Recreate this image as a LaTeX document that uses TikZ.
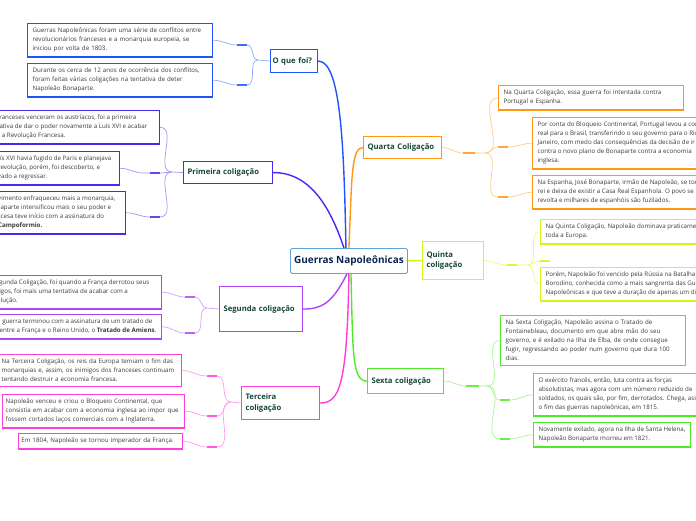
\documentclass[tikz,border=0pt]{standalone}
\usepackage{fontspec}
\setmainfont{Open Sans}
\usepackage{tikz}
\usetikzlibrary{positioning, calc}
\usepackage{xcolor}
\definecolor{oqblue}{RGB}{30, 85, 250}
\definecolor{firstviolet}{RGB}{75, 40, 240}
\definecolor{secondviolet}{RGB}{175, 70, 245}
\definecolor{thirdpink}{RGB}{255, 60, 220}
\definecolor{fourthorange}{RGB}{255, 150, 20}
\definecolor{fifthlime}{RGB}{205, 250, 20}
\definecolor{sixthgreen}{RGB}{80, 235, 40}
\definecolor{centreblue}{RGB}{95, 165, 215}
\definecolor{centretext}{RGB}{12, 38, 80}
\definecolor{topictext}{RGB}{22, 70, 58}
\definecolor{leaftext}{RGB}{60, 60, 60}

\newcommand{\leaffont}{\fontsize{6.2}{9}\selectfont}
\newcommand{\topicfont}{\fontsize{7.7}{10.5}\selectfont\bfseries}

\tikzset{
  leaf/.style={draw=#1, line width=1.3pt, fill=white, align=left, font=\leaffont,
               text=leaftext, inner xsep=5pt, inner ysep=4.5pt, anchor=north west},
  cutleaf/.style={leaf=#1, inner xsep=7pt, anchor=north east},
  topic/.style={draw=#1, line width=1.1pt, fill=white, align=left, font=\topicfont,
                text=topictext, inner xsep=4pt, inner ysep=2pt, anchor=north west},
  branch/.style={draw=#1, line width=1.4pt},
  link/.style={draw=#1!50, line width=0.7pt},
  stub/.style={draw=#1!85, line width=1.5pt}
}

\begin{document}
\begin{tikzpicture}[x=1pt, y=-1pt]
  \useasboundingbox (0,0) rectangle (696,520);

  % centre
  \node[draw=centreblue, line width=0.9pt, rounded corners=1.5pt, fill=white,
        font=\fontsize{10}{12}\selectfont\bfseries, text=centretext,
        minimum width=117, minimum height=25, anchor=north west]
        (ctr) at (290,248) {Guerras Napoleônicas};

  % topics
  \node[topic=oqblue, text width=43, inner xsep=2pt, minimum height=23] (oq) at (270,49) {O que foi?};
  \node[topic=firstviolet, text width=81, minimum height=22] (pr) at (183,161) {Primeira coligação};
  \node[topic=secondviolet, text width=75, minimum height=45] (se) at (219,286) {Segunda coligação};
  \node[topic=thirdpink, text width=70, minimum height=33] (te) at (241,386) {Terceira\\coligação};
  \node[topic=fourthorange, text width=70, minimum height=22] (qu) at (363,136) {Quarta Coligação};
  \node[topic=fifthlime, text width=53, minimum height=38] (qi) at (422,241) {Quinta\\coligação};
  \node[topic=sixthgreen, text width=68, minimum height=25] (sx) at (367,368) {Sexta coligação};

  % O que foi?
  \node[leaf=oqblue, text width=175] (oq1) at (27,23)
    {Guerras Napoleônicas foram uma série de conflitos entre\\revolucionários franceses e a monarquia europeia, se\\iniciou por volta de 1803.};
  \node[leaf=oqblue, text width=175] (oq2) at (27,63)
    {Durante os cerca de 12 anos de ocorrência dos conflitos,\\foram feitas várias coligações na tentativa de deter\\Napoleão Bonaparte.};

  % Primeira coligacao
  \node[cutleaf=firstviolet, inner xsep=12pt] (pr1) at (160,110)
    {Os franceses venceram os austríacos, foi a primeira\\tentativa de dar o poder novamente a Luís XVI e acabar\\com a Revolução Francesa.};
  \node[cutleaf=firstviolet, inner xsep=8pt] (pr2) at (120,151)
    {Luís XVI havia fugido de Paris e planejava\\a revolução, porém, foi descoberto, e\\levado a regressar.};
  \node[cutleaf=firstviolet, inner xsep=10pt] (pr3) at (126,191)
    {Movimento enfraqueceu mais a monarquia,\\Bonaparte intensificou mais o seu poder e\\francesa teve início com a assinatura do\\\textbf{de Campoformio.}};

  % Segunda coligacao
  \node[cutleaf=secondviolet, inner xsep=12pt] (se1) at (162,275)
    {A Segunda Coligação, foi quando a França derrotou seus\\inimigos, foi mais uma tentativa de acabar com a\\Revolução.};
  \node[cutleaf=secondviolet, inner xsep=5pt] (se2) at (162,314)
    {Essa guerra terminou com a assinatura de um tratado de\\paz entre a França e o Reino Unido, o \textbf{Tratado de Amiens}.};

  % Terceira coligacao
  \node[leaf=thirdpink, text width=176, inner xsep=4pt] (te1) at (-3,354)
    {Na Terceira Coligação, os reis da Europa temiam o fim das\\monarquias e, assim, os inimigos dos franceses continuam\\tentando destruir a economia francesa.};
  \node[leaf=thirdpink, text width=176, inner xsep=3pt] (te2) at (2,394)
    {Napoleão venceu e criou o Bloqueio Continental, que\\consistia em acabar com a economia inglesa ao impor que\\fossem cortados laços comerciais com a Inglaterra.};
  \node[leaf=thirdpink, text width=158, inner xsep=3pt, anchor=north east] (te3) at (183,433)
    {Em 1804, Napoleão se tornou imperador da França.};

  % Quarta coligacao
  \node[leaf=fourthorange, text width=175] (qu1) at (498,85)
    {Na Quarta Coligação, essa guerra foi intentada contra\\Portugal e Espanha.};
  \node[leaf=fourthorange] (qu2) at (532,117)
    {Por conta do Bloqueio Continental, Portugal levou a corte\\real para o Brasil, transferindo o seu governo para o Rio de\\Janeiro, com medo das consequências da decisão de ir\\contra o novo plano de Bonaparte contra a economia\\inglesa.};
  \node[leaf=fourthorange] (qu3) at (532,175)
    {Na Espanha, José Bonaparte, irmão de Napoleão, se torna\\rei e deixa de existir a Casa Real Espanhola. O povo se\\revolta e milhares de espanhóis são fuzilados.};

  % Quinta coligacao
  \node[leaf=fifthlime] (qi1) at (540,219)
    {Na Quinta Coligação, Napoleão dominava praticamente\\toda a Europa.};
  \node[leaf=fifthlime] (qi2) at (540,267)
    {Porém, Napoleão foi vencido pela Rússia na Batalha de\\Borodino, conhecida como a mais sangrenta das Guerras\\Napoleônicas e que teve a duração de apenas um dia.};

  % Sexta coligacao
  \node[leaf=sixthgreen, text width=175] (sx1) at (500,315)
    {Na Sexta Coligação, Napoleão assina o Tratado de\\Fontainebleau, documento em que abre mão do seu\\governo, e é exilado na Ilha de Elba, de onde consegue\\fugir, regressando ao poder num governo que dura 100\\dias.};
  \node[leaf=sixthgreen] (sx2) at (533,373)
    {O exército francês, então, luta contra as forças\\absolutistas, mas agora com um número reduzido de\\soldados, os quais são, por fim, derrotados. Chega, assim,\\o fim das guerras napoleônicas, em 1815.};
  \node[leaf=sixthgreen] (sx3) at (533,422)
    {Novamente exilado, agora na Ilha de Santa Helena,\\Napoleão Bonaparte morreu em 1821.};

  % main branches
  \draw[branch=oqblue] ([xshift=-3pt]ctr.north) .. controls +(-2,-110) and +(22,0) .. (oq.east);
  \draw[branch=fourthorange] ([xshift=0pt]ctr.north) .. controls +(3,-70) and +(-12,0) .. (qu.west);
  \draw[branch=firstviolet] ([xshift=-5pt]ctr.north) .. controls +(-15,-45) and +(35,0) .. (pr.east);
  \draw[branch=fifthlime] (ctr.east) -- (qi.west);
  \draw[branch=secondviolet] ([xshift=-2pt]ctr.south) .. controls +(-15,30) and +(18,0) .. (se.east);
  \draw[branch=thirdpink] ([xshift=0pt]ctr.south) .. controls +(-2,110) and +(20,0) .. (te.east);
  \draw[branch=sixthgreen] ([xshift=2pt]ctr.south) .. controls +(2,80) and +(-15,0) .. (sx.west);

  % O que foi? links
  \coordinate (oqj) at (258,60);
  \coordinate (oqs1) at (237,45);
  \coordinate (oqs2) at (237,85);
  \draw[link=oqblue] (oq.west) -- (oqj);
  \draw[link=oqblue] (oq1.east) to[out=0,in=180] (oqs1) -- ++(10,0) to[out=0,in=180] (oqj);
  \draw[link=oqblue] (oq2.east) to[out=0,in=180] (oqs2) -- ++(10,0) to[out=0,in=180] (oqj);
  \draw[stub=oqblue] (oqs1) -- ++(10,0);
  \draw[stub=oqblue] (oqs2) -- ++(10,0);

  % Primeira links
  \coordinate (prj) at (172,172);
  \coordinate (prs2) at (143,173);
  \coordinate (prs3) at (150,217);
  \draw[link=firstviolet] (pr.west) -- (prj);
  \draw[link=firstviolet] (pr1.east) to[out=0,in=180] (prj);
  \draw[link=firstviolet] (pr2.east) to[out=0,in=180] (prs2) -- ++(17,0) to[out=0,in=180] (prj);
  \draw[link=firstviolet] (pr3.east) to[out=0,in=180] (prs3) -- ++(10,0) to[out=0,in=180] (prj);
  \draw[stub=firstviolet] (prs2) ++(7,0) -- ++(10,0);
  \draw[stub=firstviolet] (prs3) -- ++(10,0);

  % Segunda links
  \coordinate (sej) at (207,308);
  \coordinate (ses1) at (185,297);
  \coordinate (ses2) at (185,333);
  \draw[link=secondviolet] (se.west) -- (sej);
  \draw[link=secondviolet] (se1.east) to[out=0,in=180] (ses1) -- ++(10,0) to[out=0,in=180] (sej);
  \draw[link=secondviolet] (se2.east) to[out=0,in=180] (ses2) -- ++(10,0) to[out=0,in=180] (sej);
  \draw[stub=secondviolet] (ses1) -- ++(10,0);
  \draw[stub=secondviolet] (ses2) -- ++(10,0);

  % Terceira links
  \coordinate (tej) at (231,402);
  \coordinate (tes1) at (207,376);
  \coordinate (tes2) at (207,416);
  \coordinate (tes3) at (207,447);
  \draw[link=thirdpink] (te.west) -- (tej);
  \draw[link=thirdpink] (te1.east) to[out=0,in=180] (tes1) -- ++(10,0) to[out=0,in=180] (tej);
  \draw[link=thirdpink] (te2.east) to[out=0,in=180] (tes2) -- ++(10,0) to[out=0,in=180] (tej);
  \draw[link=thirdpink] (te3.east) to[out=0,in=180] (tes3) -- ++(10,0) to[out=0,in=180] (tej);
  \draw[stub=thirdpink] (tes1) -- ++(10,0);
  \draw[stub=thirdpink] (tes2) -- ++(10,0);
  \draw[stub=thirdpink] (tes3) -- ++(10,0);

  % Quarta links
  \coordinate (qus) at (463,153);
  \coordinate (quj) at (485,153);
  \coordinate (qus2) at (498,147);
  \coordinate (qus3) at (498,197);
  \draw[link=fourthorange] (qu.east) to[out=0,in=180] (qus) -- (quj);
  \draw[stub=fourthorange] (qus) -- ++(12,0);
  \draw[link=fourthorange] (quj) to[out=0,in=180] (qu1.west);
  \draw[link=fourthorange] (quj) to[out=0,in=180] (qus2) -- ++(10,0) to[out=0,in=180] (qu2.west);
  \draw[link=fourthorange] (quj) to[out=0,in=180] (qus3) -- ++(10,0) to[out=0,in=180] (qu3.west);
  \draw[stub=fourthorange] (qus2) -- ++(10,0);
  \draw[stub=fourthorange] (qus3) -- ++(10,0);

  % Quinta links
  \coordinate (qis) at (507,265);
  \coordinate (qij) at (527,265);
  \coordinate (qiend) at (540,261);
  \draw[link=fifthlime] (qi.east) to[out=0,in=180] (qis) -- (qij);
  \draw[stub=fifthlime] (qis) -- ++(10,0);
  \draw[link=fifthlime] (qij) to[out=0,in=180] (qi1.west);
  \draw[link=fifthlime] (qij) to[out=0,in=180] (qi2.west);
  \draw[link=fifthlime] (qij) to[out=0,in=180] (qiend);
  \draw[stub=fifthlime] (qiend) -- ++(10,0);

  % Sexta links
  \coordinate (sxs) at (466,386);
  \coordinate (sxj) at (487,386);
  \coordinate (sxs2) at (500,400);
  \coordinate (sxs3) at (500,439);
  \draw[link=sixthgreen] (sx.east) to[out=0,in=180] (sxs) -- (sxj);
  \draw[stub=sixthgreen] (sxs) -- ++(13,0);
  \draw[link=sixthgreen] (sxj) to[out=0,in=180] (sx1.west);
  \draw[link=sixthgreen] (sxj) to[out=0,in=180] (sxs2) -- ++(10,0) to[out=0,in=180] (sx2.west);
  \draw[link=sixthgreen] (sxj) to[out=0,in=180] (sxs3) -- ++(10,0) to[out=0,in=180] (sx3.west);
  \draw[stub=sixthgreen] (sxs2) -- ++(10,0);
  \draw[stub=sixthgreen] (sxs3) -- ++(10,0);
\end{tikzpicture}
\end{document}
